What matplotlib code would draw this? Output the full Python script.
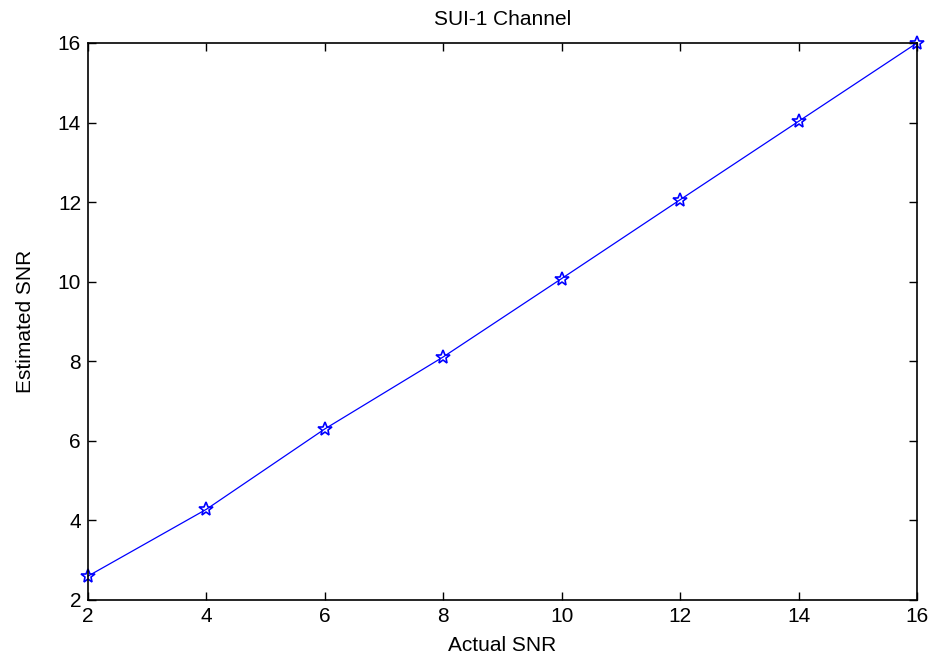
import numpy as np
import matplotlib
matplotlib.use('agg')
from matplotlib import pyplot as plt

actual_snr = [2, 4, 6, 8, 10, 12, 14, 16]
estimated_snr = [2.6, 4.28, 6.3, 8.11, 10.08, 12.06, 14.03, 16.0]
x_ticks = [2, 4, 6, 8, 10, 12, 14, 16]
y_ticks = [2, 4, 6, 8, 10, 12, 14, 16]

matplotlib.rc('font', family='Liberation Sans', size=14)

fig = plt.figure(figsize=(9.34, 6.61), dpi=100)
ax = fig.add_axes([0.0942, 0.0923, 0.8876, 0.8427])

# line with star markers
ax.plot(
    actual_snr,
    estimated_snr,
    color='blue',
    linewidth=0.9,
    marker='*',
    markersize=10,
    markerfacecolor='none',
    markeredgecolor='blue',
    markeredgewidth=1.2,
    clip_on=False
)

ax.set_xlim(2, 16)
ax.set_ylim(2, 16)
ax.set_xticks(x_ticks)
ax.set_yticks(y_ticks)
ax.tick_params(direction='in', top=True, right=True, length=6, width=1, labelsize=15, pad=5)
for s in ax.spines.values():
    s.set_linewidth(1.2)

ax.set_xlabel('Actual SNR', fontsize=15, labelpad=7)
ax.set_ylabel('Estimated SNR', fontsize=15, labelpad=16)
ax.set_title('SUI-1 Channel', fontsize=15, pad=13)

plt.savefig('out.png', format='png', dpi=100)
plt.close()
